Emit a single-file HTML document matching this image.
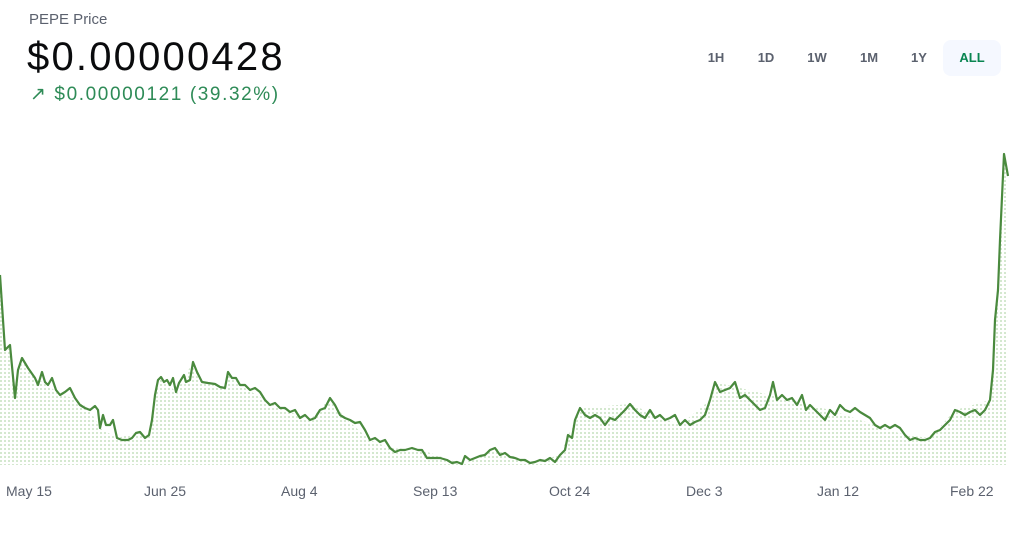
<!DOCTYPE html>
<html><head><meta charset="utf-8"><style>
html,body{margin:0;padding:0;background:#fff;width:1024px;height:538px;overflow:hidden;font-family:"Liberation Sans",sans-serif}
.t{position:absolute;left:29px;top:11px;font-size:15px;color:#5b616e}
.p{position:absolute;left:27px;top:35px;font-size:40px;color:#0a0b0d;letter-spacing:2.2px}
.c{position:absolute;left:30px;top:83px;font-size:19px;color:#2e8b57;letter-spacing:1.6px}
.b{position:absolute;top:40px;height:36px;line-height:36px;font-size:13px;font-weight:bold;color:#5b616e;text-align:center}
.x{position:absolute;top:483px;font-size:14px;color:#5b616e}
</style></head><body>
<div class="t">PEPE Price</div>
<div class="p">$0.00000428</div>
<div class="c">↗ $0.00000121 (39.32%)</div>
<div class="b" style="left:700px;width:32px">1H</div>
<div class="b" style="left:750px;width:32px">1D</div>
<div class="b" style="left:800px;width:34px">1W</div>
<div class="b" style="left:852px;width:34px">1M</div>
<div class="b" style="left:903px;width:32px">1Y</div>
<div class="b" style="left:943px;width:58px;background:#f5f8ff;border-radius:8px;color:#098551">ALL</div>
<svg width="1024" height="538" style="position:absolute;left:0;top:0">
<defs><pattern id="d" width="4" height="4" patternUnits="userSpaceOnUse"><rect width="2" height="2" fill="#d4e8cf"/></pattern></defs>
<path id="l" d="M0,275L5,350L10,345L15,398L18,370L22,358L28,368L35,378L38,385L42,372L45,382L48,385L52,378L56,390L60,395L65,392L70,388L75,398L80,405L85,408L90,410L95,406L98,410L100,428L103,415L106,425L110,425L113,420L117,438L122,440L128,440L132,438L136,433L140,432L145,438L149,435L152,420L155,395L158,380L161,377L164,382L167,380L170,385L173,378L176,392L179,383L184,375L186,382L190,380L193,362L197,372L202,382L208,383L215,384L220,387L225,388L228,372L232,378L236,378L240,385L245,385L250,390L255,388L260,392L265,400L270,405L275,403L280,408L285,408L290,412L295,410L300,418L305,415L310,420L315,418L320,410L325,408L330,398L335,405L340,415L345,418L350,420L355,423L360,422L365,430L370,440L375,438L380,442L385,440L390,448L395,452L400,450L405,450L412,448L418,450L422,450L427,458L432,458L440,458L447,460L452,463L457,462L462,464L465,456L470,460L475,458L480,456L485,455L490,450L495,448L500,455L505,453L510,457L515,458L520,460L525,460L530,463L535,462L540,460L545,461L550,458L555,462L560,455L565,450L568,435L572,438L575,420L580,408L585,415L590,418L595,415L600,418L605,425L610,418L615,420L620,415L625,410L630,404L635,410L640,415L645,418L650,410L655,418L660,415L665,420L670,418L675,415L680,425L685,420L690,425L695,422L700,420L705,415L710,400L715,382L720,392L725,390L730,388L735,382L740,398L745,395L750,400L755,405L760,410L765,408L770,395L773,382L777,400L782,395L787,400L792,398L797,405L802,395L806,410L810,405L815,410L820,415L825,420L830,410L835,415L840,405L845,410L850,412L855,408L860,412L865,415L870,418L875,425L880,428L885,425L890,428L895,425L900,428L905,435L910,440L915,438L920,440L925,440L930,438L935,432L940,430L945,425L950,420L955,410L960,412L965,415L970,412L975,410L980,415L985,410L990,400L993,370L995,320L998,290L1000,240L1004,154L1008,176" fill="none"/>
<path d="M0,275L5,350L10,345L15,398L22,358L35,378L48,385L60,395L75,398L90,410L100,428L117,438L136,433L149,435L155,395L161,377L176,392L193,362L202,382L225,388L228,372L240,385L265,400L290,412L310,420L330,398L345,418L370,440L390,448L422,450L462,464L495,448L530,463L560,455L575,420L580,408L630,404L680,425L710,400L715,382L770,395L830,410L875,425L905,435L930,438L955,410L990,400L1000,240L1004,154L1008,176L1008,465L0,465Z" fill="url(#d)"/>
<use href="#l" stroke="#4a8a3e" stroke-width="2.2" stroke-linejoin="round"/>
</svg>
<div class="x" style="left:6px">May 15</div>
<div class="x" style="left:144px">Jun 25</div>
<div class="x" style="left:281px">Aug 4</div>
<div class="x" style="left:413px">Sep 13</div>
<div class="x" style="left:549px">Oct 24</div>
<div class="x" style="left:686px">Dec 3</div>
<div class="x" style="left:817px">Jan 12</div>
<div class="x" style="left:950px">Feb 22</div>
</body></html>
